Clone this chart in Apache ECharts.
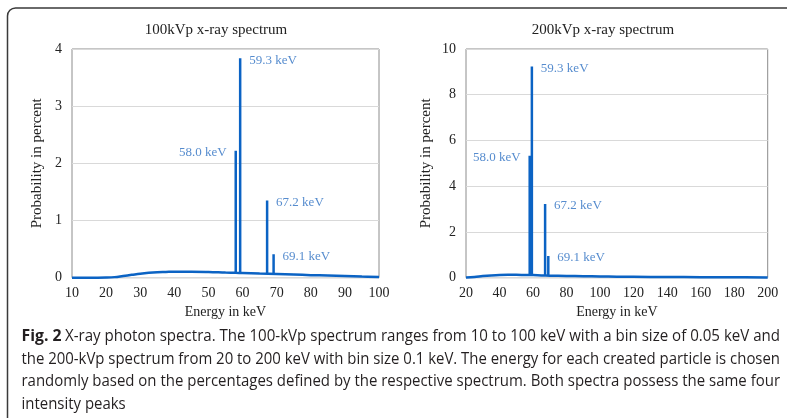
<!DOCTYPE html>
<html>
<head>
<meta charset="utf-8">
<script src="https://cdn.jsdelivr.net/npm/echarts@6/dist/echarts.min.js"></script>
<style>
  html, body { margin: 0; padding: 0; background: #fff; }
  #chart { width: 787px; height: 418px; }
</style>
</head>
<body>
<div id="chart"></div>
<script>
// ---- 100 kVp spectrum ----
const cont100E = [10, 15, 20, 22.5, 25, 27.5, 30, 32.5, 35, 37.5, 40, 45, 50, 55, 58, 60, 65, 70, 75, 80, 85, 90, 95, 100];
const cont100P = [0.0, 0.0, 0.003, 0.01, 0.03, 0.05, 0.07, 0.085, 0.095, 0.1, 0.105, 0.105, 0.1, 0.09, 0.085, 0.082, 0.072, 0.065, 0.055, 0.045, 0.038, 0.03, 0.02, 0.012];

// ---- 200 kVp spectrum ----
const cont200E = [20, 25, 30, 35, 40, 45, 50, 55, 60, 65, 70, 80, 90, 100, 110, 120, 140, 160, 180, 200];
const cont200P = [0.01, 0.03, 0.07, 0.1, 0.12, 0.125, 0.125, 0.12, 0.115, 0.1, 0.09, 0.075, 0.065, 0.055, 0.045, 0.04, 0.03, 0.025, 0.02, 0.01];

// characteristic lines shared by both spectra
const peakE = [58.0, 59.3, 67.2, 69.1];
const peak100 = [2.22, 3.84, 1.35, 0.41];
const peak100Base = [0.085, 0.082, 0.07, 0.065];
const peak200 = [5.33, 9.23, 3.22, 0.95];
const peak200Base = [0.115, 0.115, 0.09, 0.09];
const peakLabelSide = ['left', 'right', 'right', 'right'];

const titles = ['100kVp x-ray spectrum', '200kVp x-ray spectrum'];
const xTicks100 = { min: 10, max: 100, interval: 10 };
const yTicks100 = { min: 0, max: 4, interval: 1 };
const xTicks200 = { min: 20, max: 200, interval: 20 };
const yTicks200 = { min: 0, max: 10, interval: 2 };

const captionBold = 'Fig. 2';
const captionLines = [
  'X-ray photon spectra. The 100-kVp spectrum ranges from 10 to 100 keV with a bin size of 0.05 keV and',
  'the 200-kVp spectrum from 20 to 200 keV with bin size 0.1 keV. The energy for each created particle is chosen',
  'randomly based on the percentages defined by the respective spectrum. Both spectra possess the same four',
  'intensity peaks'
];

const LINE = '#0B63C4';
const LABEL = '#2C6FC2';
const SERIF = '"Liberation Serif", "Times New Roman", serif';
const SANS = '"Open Sans", "Noto Sans", sans-serif';

function zip(xs, ys) { return xs.map((x, i) => [x, ys[i]]); }
function spikes(base, top) {
  const out = [];
  peakE.forEach((e, i) => { out.push([e, base[i]], [e, top[i]], null); });
  return out;
}
function labelData(top) {
  return peakE.map((e, i) => ({
    value: [e, top[i]],
    label: { position: peakLabelSide[i] }
  }));
}

function makeX(idx, t) {
  return {
    gridIndex: idx, type: 'value', min: t.min, max: t.max, interval: t.interval,
    name: 'Energy in keV', nameLocation: 'middle', nameGap: 28,
    nameTextStyle: { fontFamily: SERIF, fontSize: 14, color: '#222' },
    axisLine: { show: false }, axisTick: { show: false }, splitLine: { show: false },
    axisLabel: { fontFamily: SERIF, fontSize: 14, color: '#222', margin: 9 }
  };
}
function makeY(idx, t, gap) {
  return {
    gridIndex: idx, type: 'value', min: t.min, max: t.max, interval: t.interval,
    name: 'Probability in percent', nameLocation: 'middle', nameGap: gap,
    nameTextStyle: { fontFamily: SERIF, fontSize: 15, color: '#222' },
    axisLine: { show: false }, axisTick: { show: false },
    splitLine: { lineStyle: { color: '#d9d9d9', width: 1 } },
    axisLabel: { fontFamily: SERIF, fontSize: 14, color: '#222', margin: 10 }
  };
}
function contSeries(idx, data) {
  return {
    type: 'line', xAxisIndex: idx, yAxisIndex: idx, data: data, smooth: 0.4,
    symbol: 'none', lineStyle: { color: LINE, width: 2.5 }, silent: true, z: 3
  };
}
function spikeSeries(idx, data) {
  return {
    type: 'line', xAxisIndex: idx, yAxisIndex: idx, data: data, connectNulls: false,
    symbol: 'none', lineStyle: { color: LINE, width: 2.5, join: 'bevel', cap: 'butt' }, silent: true, z: 4
  };
}
function labelSeries(idx, data) {
  return {
    type: 'scatter', xAxisIndex: idx, yAxisIndex: idx, data: data, symbolSize: 0,
    silent: true, z: 5,
    label: {
      show: true, distance: 9, offset: [0, 2],
      fontFamily: SERIF, fontSize: 13, color: LABEL,
      formatter: p => p.value[0].toFixed(1) + ' keV'
    }
  };
}

// horizontal squeeze so each caption line fills its measured width
const measureCtx = document.createElement('canvas').getContext('2d');
function textWidth(text, font) { measureCtx.font = font; return measureCtx.measureText(text).width; }
const capFont = '16px ' + SANS;
const capBoldFont = 'bold 16px ' + SANS;
const capLeft = 21.5, capRight = 780;
const capY = [336.5, 359, 381.5, 404];
const boldScale = 40 / textWidth(captionBold, capBoldFont);
const lineScales = captionLines.map((t, i) => {
  const start = i === 0 ? 65 : capLeft;
  return (capRight - start) / textWidth(t, capFont);
});
lineScales[3] = (lineScales[1] + lineScales[2]) / 2;

const captionGraphics = [
  { type: 'text', x: capLeft, y: capY[0], scaleX: boldScale,
    style: { text: captionBold, font: capBoldFont, fill: '#231f20', align: 'left', verticalAlign: 'middle' } }
].concat(captionLines.map((t, i) => ({
  type: 'text', x: i === 0 ? 65 : capLeft, y: capY[i], scaleX: lineScales[i],
  style: { text: t, font: capFont, fill: '#231f20', align: 'left', verticalAlign: 'middle' }
})));

const chart = echarts.init(document.getElementById('chart'), null, { renderer: 'canvas' });
chart.setOption({
  animation: false,
  backgroundColor: '#fff',
  title: [
    { text: titles[0], left: 211, top: 18, textAlign: 'center',
      textStyle: { fontFamily: SERIF, fontSize: 15, fontWeight: 'normal', color: '#222' } },
    { text: titles[1], left: 598, top: 18, textAlign: 'center',
      textStyle: { fontFamily: SERIF, fontSize: 15, fontWeight: 'normal', color: '#222' } }
  ],
  grid: [
    { left: 72, top: 49, right: 408, bottom: 140.3, show: true, borderColor: '#8c8c8c', borderWidth: 1, backgroundColor: 'transparent' },
    { left: 466, top: 49, right: 19.3, bottom: 140.3, show: true, borderColor: '#8c8c8c', borderWidth: 1, backgroundColor: 'transparent' }
  ],
  xAxis: [makeX(0, xTicks100), makeX(1, xTicks200)],
  yAxis: [makeY(0, yTicks100, 27), makeY(1, yTicks200, 32)],
  series: [
    contSeries(0, zip(cont100E, cont100P)),
    spikeSeries(0, spikes(peak100Base, peak100)),
    labelSeries(0, labelData(peak100)),
    contSeries(1, zip(cont200E, cont200P)),
    spikeSeries(1, spikes(peak200Base, peak200)),
    labelSeries(1, labelData(peak200))
  ],
  graphic: [
    { type: 'rect', shape: { x: 7.5, y: 8, width: 830, height: 460, r: 8 },
      style: { fill: 'none', stroke: '#3a3a3a', lineWidth: 1.5 }, silent: true }
  ].concat(captionGraphics)
});
</script>
</body>
</html>
